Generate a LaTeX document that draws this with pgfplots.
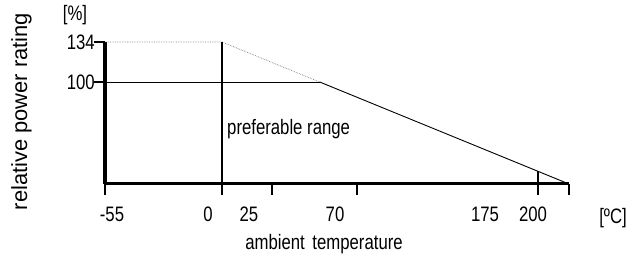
\documentclass[border=0pt]{standalone}
\usepackage{pgfplots}
\pgfplotsset{compat=1.18}
\usepackage{fontspec}
\setmainfont{Liberation Sans}
\newfontfamily\cond[FakeStretch=0.8]{Liberation Sans}
\newcommand{\lbl}{\cond\fontsize{21}{23}\selectfont}
\begin{document}
\begin{tikzpicture}
\path[use as bounding box] (0,0) rectangle (629bp,254bp);
\begin{axis}[
  at={(105bp,70bp)}, anchor=south west,
  scale only axis, width=464bp, height=142bp,
  xmin=105, xmax=569, ymin=13.3, ymax=134,
  clip=false,
  axis lines=left,
  axis line style={-, line width=3bp},
  xtick={105,272,357,569}, xticklabels={},
  ytick={100,134}, yticklabels={100,134},
  tick align=outside,
  major tick length=11bp,
  every tick/.style={black, line width=2.5bp},
  yticklabel style={font=\lbl, inner sep=1bp, xshift=2bp},
  extra x ticks={112,208,249,335,485,533},
  extra x tick labels={-55,0,25,70,175,200},
  extra x tick style={major tick length=0pt,
    xticklabel style={font=\lbl, anchor=base, yshift=-38bp}},
]
\addplot[gray, densely dotted, line width=0.7bp] coordinates {(105,134) (222,134) (319.7,100)};
\addplot[black, line width=0.9bp] coordinates {(105,100) (319.7,100)};
\addplot[black, line width=0.9bp] coordinates {(319.7,100) (569,13.3)};
\addplot[black, line width=2.3bp] coordinates {(222,134) (222,3.95)};
\addplot[black, line width=2.3bp] coordinates {(538,24.0) (538,3.95)};
\end{axis}
\node[anchor=base, font=\lbl] at (75bp,233bp) {[\%]};
\node[anchor=base, rotate=90, font=\fontsize{22}{24}\selectfont] at (27bp,142.5bp) {relative power rating};
\node[anchor=base west, font=\lbl, inner sep=0pt] at (227bp,119bp) {preferable range};
\node[anchor=base, font=\lbl] at (324bp,5bp) {ambient\hspace{3bp} temperature};
\node[anchor=base, font=\lbl] at (613bp,31bp) {[ºC]};
\end{tikzpicture}
\end{document}
